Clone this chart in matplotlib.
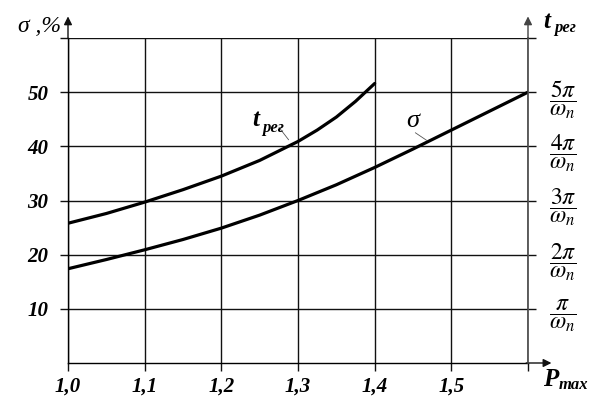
import matplotlib
matplotlib.use("Agg")
import matplotlib.pyplot as plt

plt.rcParams['font.family'] = ['Liberation Serif', 'DejaVu Serif']
plt.rcParams['mathtext.fontset'] = 'stix'

# ---- data ----
p_t = [1.0, 1.05, 1.1, 1.15, 1.2, 1.25, 1.3, 1.325, 1.35, 1.375, 1.4]
t_reg = [25.8, 27.6, 29.7, 32.0, 34.5, 37.4, 40.9, 43.0, 45.4, 48.3, 51.6]

p_sigma = [1.0, 1.05, 1.1, 1.15, 1.2, 1.25, 1.3, 1.35, 1.4, 1.45, 1.5, 1.55, 1.6]
sigma = [17.4, 19.1, 20.9, 22.8, 24.9, 27.3, 30.0, 32.9, 36.1, 39.5, 43.0, 46.5, 50.0]

x_ticks = [1.0, 1.1, 1.2, 1.3, 1.4, 1.5, 1.6]
x_labels = ['1,0', '1,1', '1,2', '1,3', '1,4', '1,5', '']
y_ticks = [10, 20, 30, 40, 50, 60]
y_labels = ['10', '20', '30', '40', '50', '']
t_labels = [r'$\dfrac{\ \pi\ }{\omega_n}$', r'$\dfrac{2\pi}{\omega_n}$',
            r'$\dfrac{3\pi}{\omega_n}$', r'$\dfrac{4\pi}{\omega_n}$',
            r'$\dfrac{5\pi}{\omega_n}$', '']

W, H = 600, 400
fig = plt.figure(figsize=(6, 4), dpi=100)
ax = fig.add_axes([68 / W, 1 - 363 / H, 460 / W, 325 / H])
ax.set_xlim(1.0, 1.6)
ax.set_ylim(0, 60)

bold_it = dict(fontweight='bold', fontstyle='italic', fontsize=15)

ax.set_xticks(x_ticks)
ax.set_xticklabels(x_labels, **bold_it)
ax.set_yticks(y_ticks)
ax.set_yticklabels(y_labels, **bold_it)
ax.tick_params(axis='both', direction='out', length=6, width=1.0, color='#111')
ax.tick_params(axis='y', pad=8)
ax.tick_params(axis='x', pad=4)
ax.grid(True, color='#111', lw=1.0)

ax.spines['top'].set_visible(False)
ax.spines['right'].set_visible(False)
for s in ['left', 'bottom']:
    ax.spines[s].set_linewidth(1.0)

ax2 = ax.twinx()
ax2.set_ylim(0, 60)
ax2.set_yticks(y_ticks)
ax2.set_yticklabels(t_labels, fontsize=17)
ax2.tick_params(axis='y', direction='out', length=6, width=1.0, color='#111', pad=9)
for s in ['top', 'left', 'bottom']:
    ax2.spines[s].set_visible(False)
ax2.spines['right'].set_color('#444')
ax2.spines['right'].set_linewidth(1.2)

# axis arrows
arrow = dict(arrowstyle='-|>', lw=1.0, color='#111', mutation_scale=12)
ax.annotate('', xy=(0, 1.075), xytext=(0, 0.99), xycoords='axes fraction', arrowprops=arrow)
ax.annotate('', xy=(1, 1.075), xytext=(1, 0.99), xycoords='axes fraction',
            arrowprops=dict(arrow, color='#444'))
ax.annotate('', xy=(1.057, 0), xytext=(0.99, 0), xycoords='axes fraction', arrowprops=arrow)

# curves
ax.plot(p_t, t_reg, color='k', lw=2.3, solid_capstyle='round')
ax.plot(p_sigma, sigma, color='k', lw=2.3, solid_capstyle='round')

# curve labels with leader lines
ax.annotate('', xy=(1.29, 40.8), xytext=(1.273, 43.9),
            arrowprops=dict(arrowstyle='-', lw=0.6, color='#555'))
ax.text(1.245, 45.0, 't', fontsize=18, fontweight='bold', fontstyle='italic',
        ha='center', va='center')
ax.text(1.253, 43.4, 'рег', fontsize=12, fontweight='bold', fontstyle='italic',
        ha='left', va='center')

ax.annotate('', xy=(1.471, 40.8), xytext=(1.45, 42.8),
            arrowprops=dict(arrowstyle='-', lw=0.6, color='#555'))
ax.text(1.449, 44.6, 'σ', fontsize=19, fontstyle='italic', ha='center', va='center')

# axis titles
fig.text(18 / W, 1 - 27 / H, 'σ ,%', fontsize=17, fontstyle='italic', va='center')
fig.text(543 / W, 1 - 22 / H, 't', fontsize=18, fontweight='bold', fontstyle='italic',
         va='center')
fig.text(554 / W, 1 - 28 / H, 'рег', fontsize=12, fontweight='bold', fontstyle='italic',
         va='center')
fig.text(543 / W, 1 - 380 / H, 'P', fontsize=18, fontweight='bold', fontstyle='italic',
         va='center')
fig.text(559 / W, 1 - 385 / H, 'max', fontsize=12, fontweight='bold', fontstyle='italic',
         va='center')

fig.savefig('out.png', dpi=100, facecolor='white')
